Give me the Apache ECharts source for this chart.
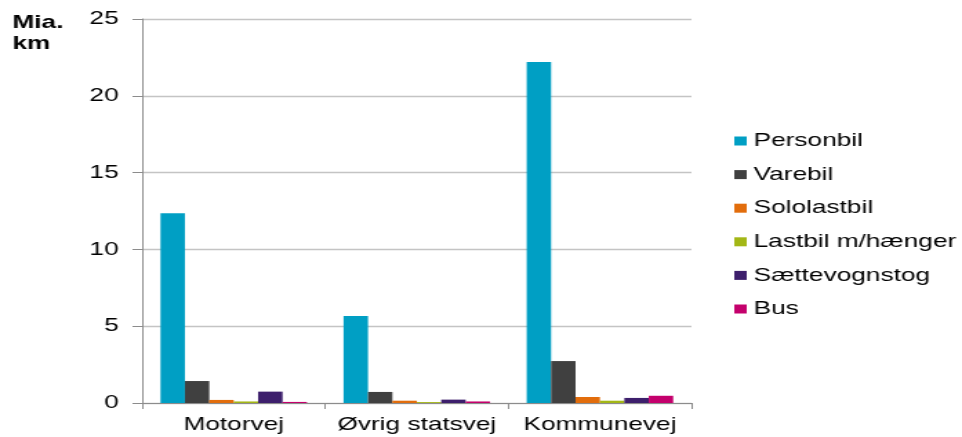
<!DOCTYPE html>
<html>
<head>
<meta charset="utf-8">
<script src="https://cdn.jsdelivr.net/npm/echarts@6/dist/echarts.min.js"></script>
<style>
  html, body { margin: 0; padding: 0; background: #fff; overflow: hidden; }
  /* the reference is horizontally stretched, so draw narrow and stretch */
  #chart { width: 697px; height: 437px; transform: scaleX(1.3802); transform-origin: 0 0; }
</style>
</head>
<body>
<div id="chart"></div>
<script>
const categories = ['Motorvej', 'Øvrig statsvej', 'Kommunevej'];
const seriesNames = ['Personbil', 'Varebil', 'Sololastbil', 'Lastbil m/hænger', 'Sættevognstog', 'Bus'];
const personbil = [12.35, 5.66, 22.2];
const varebil = [1.43, 0.72, 2.73];
const sololastbil = [0.2, 0.15, 0.39];
const lastbil = [0.1, 0.06, 0.15];
const saettevognstog = [0.74, 0.22, 0.33];
const bus = [0.07, 0.1, 0.47];
const yTicks = [0, 5, 10, 15, 20, 25];

const colors = ['#009fc4', '#404040', '#e26d0c', '#a3b716', '#3d1f6c', '#c4006c'];
const values = [personbil, varebil, sololastbil, lastbil, saettevognstog, bus];
const font = 'Liberation Sans, Arial, sans-serif';

const chart = echarts.init(document.getElementById('chart'));

chart.setOption({
  animation: false,
  color: colors,
  textStyle: { fontFamily: font },
  grid: { left: 103, right: 196, top: 19, bottom: 34 },
  legend: {
    orient: 'vertical',
    left: 527,
    top: 126,
    itemWidth: 9,
    itemHeight: 9,
    itemGap: 13.6,
    icon: 'rect',
    textStyle: { fontSize: 19, color: '#000', lineHeight: 20 },
    data: seriesNames
  },
  graphic: [{
    type: 'text',
    left: 9,
    top: 12,
    style: {
      text: 'Mia.\nkm',
      font: 'bold 19px ' + font,
      fill: '#000',
      lineHeight: 21,
      align: 'center'
    }
  }],
  xAxis: {
    type: 'category',
    data: categories,
    axisLine: { lineStyle: { color: '#8c8c8c', width: 1 } },
    axisTick: { show: true, length: 6, lineStyle: { color: '#8c8c8c' } },
    axisLabel: { fontSize: 19, color: '#000', margin: 12, interval: 0 }
  },
  yAxis: {
    type: 'value',
    min: yTicks[0],
    max: yTicks[yTicks.length - 1],
    interval: 5,
    axisLine: { show: true, lineStyle: { color: '#8c8c8c', width: 1 } },
    axisTick: { show: true, length: 7, lineStyle: { color: '#8c8c8c' } },
    splitLine: { show: true, lineStyle: { color: '#c4c4c4', width: 1.3 } },
    axisLabel: { fontSize: 19, color: '#000', margin: 17 }
  },
  series: seriesNames.map((name, i) => ({
    name,
    type: 'bar',
    data: values[i],
    barGap: '0%',
    barCategoryGap: '20%'
  }))
});
</script>
</body>
</html>
